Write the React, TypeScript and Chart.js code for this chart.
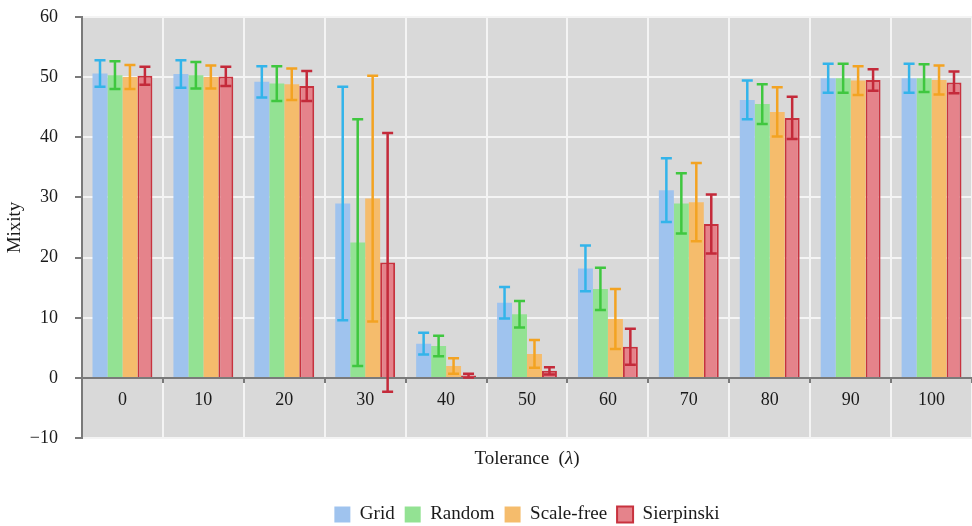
import React, { useEffect, useRef } from 'react';
import { Chart, registerables } from 'chart.js';

Chart.register(...registerables);

const categories = ['0', '10', '20', '30', '40', '50', '60', '70', '80', '90', '100'];
const seriesNames = ['Grid', 'Random', 'Scale-free', 'Sierpinski'];

const gridMean = [50.6, 50.5, 49.2, 29.0, 5.7, 12.5, 18.2, 31.2, 46.2, 49.8, 49.8];
const gridErr = [2.2, 2.3, 2.6, 19.4, 1.8, 2.6, 3.8, 5.3, 3.2, 2.4, 2.4];
const randomMean = [50.3, 50.3, 48.9, 22.5, 5.3, 10.6, 14.8, 29.0, 45.5, 49.8, 49.8];
const randomErr = [2.3, 2.2, 2.9, 20.5, 1.7, 2.2, 3.5, 5.0, 3.3, 2.4, 2.3];
const scaleFreeMean = [50.0, 50.0, 48.8, 29.8, 2.0, 4.0, 9.8, 29.2, 44.2, 49.4, 49.5];
const scaleFreeErr = [2.0, 1.9, 2.6, 20.4, 1.3, 2.3, 5.0, 6.5, 4.1, 2.4, 2.4];
const sierpinskiMean = [50.2, 50.1, 48.5, 19.2, 0.4, 1.2, 5.2, 25.6, 43.2, 49.5, 49.1];
const sierpinskiErr = [1.5, 1.6, 2.5, 21.5, 0.3, 0.6, 3.0, 4.9, 3.5, 1.8, 1.8];

const yTicks = [-10, 0, 10, 20, 30, 40, 50, 60];

const FONT = '"Liberation Serif", "Times New Roman", serif';

export default function App() {
  const ref = useRef<HTMLCanvasElement>(null);

  useEffect(() => {
    document.body.style.margin = '0';
    const means = [gridMean, randomMean, scaleFreeMean, sierpinskiMean];
    const errs = [gridErr, randomErr, scaleFreeErr, sierpinskiErr];
    const fills = ['#9fc3ee', '#93e293', '#f5bc6c', '#e5838b'];
    const borders = ['#9fc3ee', '#93e293', '#f5bc6c', '#c8323e'];
    const borderWidths = [0, 0, 0, 2];
    const errColors = ['#33b4ea', '#3fc73f', '#f3a322', '#c42a3a'];

    const bgPlugin = {
      id: 'plotBg',
      beforeDraw(chart: any) {
        const { ctx, chartArea: a } = chart;
        ctx.save();
        ctx.fillStyle = '#d9d9d9';
        ctx.fillRect(a.left, a.top, a.right - a.left, a.bottom - a.top);
        ctx.restore();
      },
    };

    const errPlugin = {
      id: 'errBars',
      afterDatasetsDraw(chart: any) {
        const { ctx } = chart;
        const ys = chart.scales.y;
        ctx.save();
        chart.data.datasets.forEach((ds: any, i: number) => {
          const meta = chart.getDatasetMeta(i);
          meta.data.forEach((el: any, j: number) => {
            const v = ds.data[j];
            const e = errs[i][j];
            const x = el.x;
            const t = ys.getPixelForValue(v + e);
            const b = ys.getPixelForValue(v - e);
            ctx.strokeStyle = errColors[i];
            ctx.lineWidth = 2.5;
            ctx.beginPath();
            ctx.moveTo(x, t);
            ctx.lineTo(x, b);
            ctx.moveTo(x - 5.5, t);
            ctx.lineTo(x + 5.5, t);
            ctx.moveTo(x - 5.5, b);
            ctx.lineTo(x + 5.5, b);
            ctx.stroke();
          });
        });
        ctx.restore();
      },
    };

    const xTitlePlugin = {
      id: 'xTitle',
      afterDraw(chart: any) {
        const { ctx, chartArea: a } = chart;
        const normal = `19px ${FONT}`;
        const italic = `italic 19px ${FONT}`;
        const p1 = 'Tolerance  (';
        const p2 = 'λ';
        const p3 = ')';
        ctx.save();
        ctx.font = normal;
        const w1 = ctx.measureText(p1).width;
        const w3 = ctx.measureText(p3).width;
        ctx.font = italic;
        const w2 = ctx.measureText(p2).width;
        const total = w1 + w2 + w3;
        let x = (a.left + a.right) / 2 - total / 2;
        const y = a.bottom + 21;
        ctx.fillStyle = '#1a1a1a';
        ctx.textBaseline = 'middle';
        ctx.textAlign = 'left';
        ctx.font = normal;
        ctx.fillText(p1, x, y);
        x += w1;
        ctx.font = italic;
        ctx.fillText(p2, x, y);
        x += w2;
        ctx.font = normal;
        ctx.fillText(p3, x, y);
        ctx.restore();
      },
    };

    const chart = new Chart(ref.current as HTMLCanvasElement, {
      type: 'bar',
      data: {
        labels: categories,
        datasets: seriesNames.map((name, i) => ({
          label: name,
          data: means[i],
          backgroundColor: fills[i],
          borderColor: borders[i],
          borderWidth: borderWidths[i],
          categoryPercentage: 0.74,
          barPercentage: 1.0,
        })),
      },
      options: {
        animation: false,
        responsive: true,
        maintainAspectRatio: false,
        layout: { padding: { top: 0, right: 0, left: 0, bottom: -8 } },
        scales: {
          x: {
            type: 'category',
            position: { y: 0 } as any,
            offset: true,
            grid: {
              offset: true,
              color: '#f4f4f4',
              lineWidth: 2,
              drawOnChartArea: true,
              drawTicks: true,
              tickLength: 4,
              tickColor: '#7a7a7a',
            },
            border: { display: true, color: '#7a7a7a', width: 2 },
            ticks: {
              color: '#1a1a1a',
              font: { family: FONT, size: 18 },
              padding: 7,
            },
          },
          y: {
            min: -10,
            max: 60,
            afterFit: (s: any) => {
              s.width = 82;
            },
            afterBuildTicks: (s: any) => {
              s.ticks = yTicks.map((v) => ({ value: v }));
            },
            grid: {
              color: '#f4f4f4',
              lineWidth: 2,
              drawTicks: true,
              tickLength: 7,
              tickColor: '#7a7a7a',
            },
            border: { display: true, color: '#7a7a7a', width: 2 },
            ticks: {
              color: '#1a1a1a',
              font: { family: FONT, size: 18 },
              padding: 17,
              callback: (v: any) => (Number(v) < 0 ? '\u2212' + Math.abs(Number(v)) : String(v)),
            },
            title: {
              display: true,
              text: 'Mixity',
              color: '#1a1a1a',
              font: { family: FONT, size: 19 },
              padding: { top: 4, bottom: 0 },
            },
          },
        },
        plugins: {
          tooltip: { enabled: false },
          title: {
            display: true,
            text: 'Tolerance (λ)',
            color: 'rgba(0,0,0,0)',
            position: 'bottom',
            fullSize: false,
            weight: 500,
            font: { family: FONT, size: 19 },
            padding: { top: 10, bottom: 24 },
          } as any,
          legend: {
            display: true,
            position: 'bottom',
            fullSize: false,
            labels: {
              color: '#1a1a1a',
              font: { family: FONT, size: 19 },
              boxWidth: 16,
              boxHeight: 16,
              padding: 10,
            },
          },
        },
      },
      plugins: [bgPlugin, errPlugin, xTitlePlugin],
    });
    return () => chart.destroy();
  }, []);

  return (
    <div style={{ position: 'fixed', left: 0, top: -11, width: 972, height: 537 }}>
      <canvas ref={ref} />
    </div>
  );
}
